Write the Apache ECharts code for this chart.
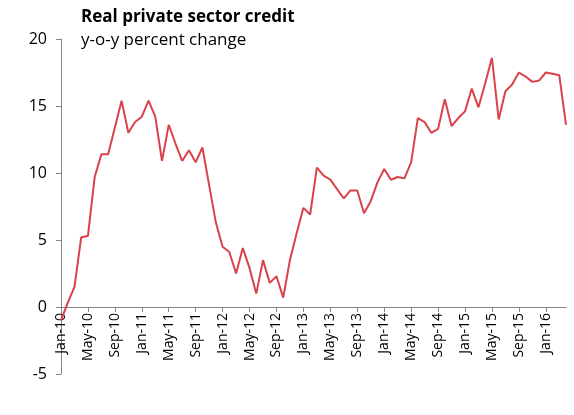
<!DOCTYPE html>
<html>
<head>
<meta charset="utf-8">
<script src="https://cdn.jsdelivr.net/npm/echarts@6/dist/echarts.min.js"></script>
<style>html,body{margin:0;padding:0;background:#fff}#chart{width:574px;height:415px}</style>
</head>
<body>
<div id="chart"></div>
<script>
// monthly, Jan-10 .. Apr-16
const monthNames = ['Jan', 'Feb', 'Mar', 'Apr', 'May', 'Jun', 'Jul', 'Aug', 'Sep', 'Oct', 'Nov', 'Dec'];
const credit = [
  -1.0, 0.3, 1.5, 5.2, 5.3, 9.7, 11.4, 11.4, 13.4, 15.4, 13.0, 13.8,
  14.2, 15.4, 14.2, 10.9, 13.6, 12.2, 10.9, 11.7, 10.8, 11.9, 9.1, 6.3,
  4.5, 4.1, 2.5, 4.4, 2.9, 1.0, 3.5, 1.8, 2.3, 0.7, 3.5, 5.5,
  7.4, 6.9, 10.4, 9.8, 9.5, 8.8, 8.1, 8.7, 8.7, 7.0, 7.9, 9.3,
  10.3, 9.5, 9.7, 9.6, 10.8, 14.1, 13.8, 13.0, 13.3, 15.5, 13.5, 14.1,
  14.6, 16.3, 14.9, 16.7, 18.6, 14.0, 16.1, 16.6, 17.5, 17.2, 16.8, 16.9,
  17.5, 17.4, 17.3, 13.6
];
const months = credit.map((v, i) =>
  monthNames[i % 12] + '-' + String(10 + Math.floor(i / 12)));
const yTicks = [-5, 0, 5, 10, 15, 20];

const chart = echarts.init(document.getElementById('chart'));
chart.setOption({
  animation: false,
  textStyle: {fontFamily: 'Open Sans'},
  title: {
    text: 'Real private sector credit',
    subtext: 'y-o-y percent change',
    left: 76, top: 4,
    textStyle: {fontFamily: 'Open Sans', fontSize: 17, fontWeight: 'bold', color: '#000'},
    subtextStyle: {fontFamily: 'Open Sans', fontSize: 17, color: '#000'},
    itemGap: 6
  },
  grid: {left: 61, right: 8, top: 39, bottom: 41, containLabel: false, outerBoundsMode: 'none'},
  xAxis: [{
    type: 'category',
    data: months,
    boundaryGap: false,
    axisLine: {onZero: true, lineStyle: {color: '#868686'}},
    axisTick: {interval: 3, length: 5, lineStyle: {color: '#868686'}},
    axisLabel: {show: false},
    splitLine: {show: false}
  }, {
    // labels hanging just under the zero line
    type: 'category',
    data: months,
    boundaryGap: false,
    position: 'bottom',
    offset: -67,
    axisLine: {show: false},
    axisTick: {show: false},
    axisLabel: {interval: 3, rotate: 90, color: '#000', fontSize: 14, margin: 6},
    splitLine: {show: false}
  }],
  yAxis: {
    type: 'value',
    min: yTicks[0], max: yTicks[yTicks.length - 1], interval: 5,
    axisLine: {show: true, lineStyle: {color: '#868686'}},
    axisTick: {show: true, length: 5, lineStyle: {color: '#868686'}},
    axisLabel: {color: '#000', fontSize: 16, margin: 14},
    splitLine: {show: false}
  },
  series: [{
    type: 'line',
    data: credit,
    symbol: 'none',
    lineStyle: {color: '#d9424a', width: 2}
  }]
});
</script>
</body>
</html>
